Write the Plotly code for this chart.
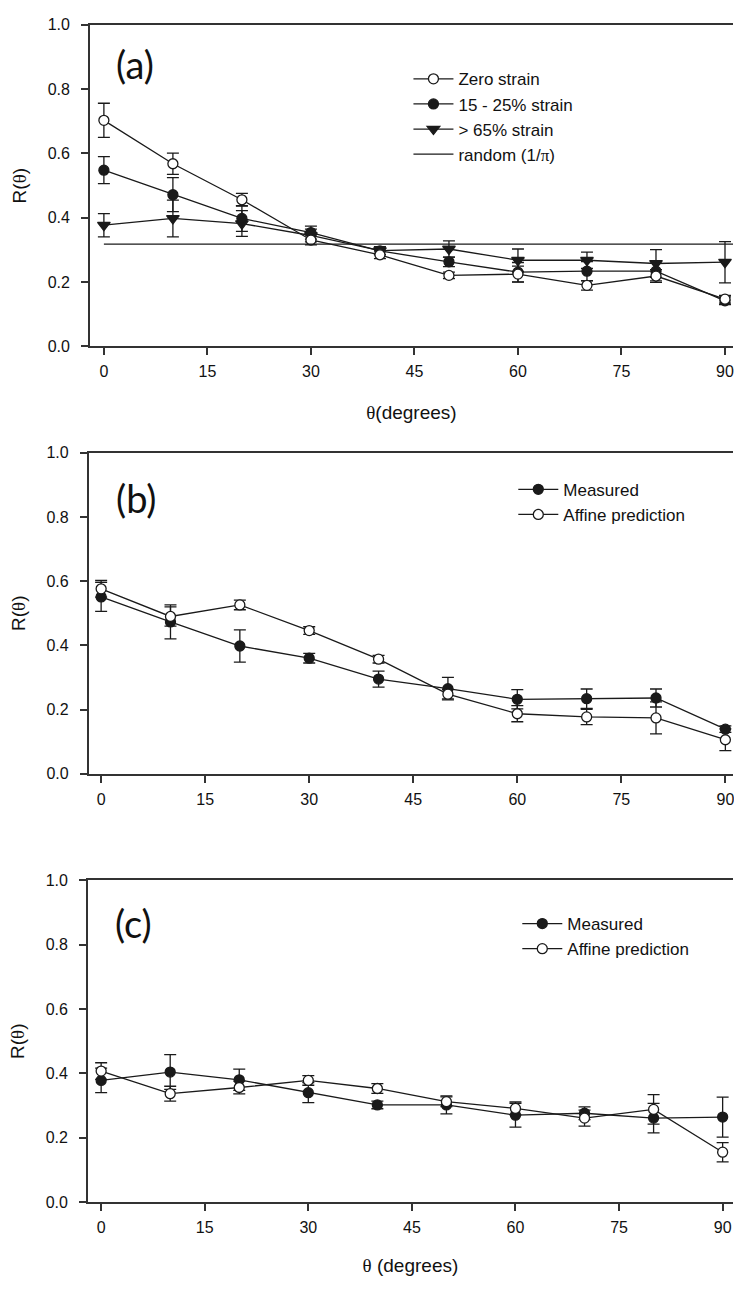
import plotly.graph_objects as go
import math

# ---------------- data ----------------
theta = [0, 10, 20, 30, 40, 50, 60, 70, 80, 90]
x_ticks = [0, 15, 30, 45, 60, 75, 90]
y_ticks = [0.0, 0.2, 0.4, 0.6, 0.8, 1.0]

# panel (a)
zero_strain = [0.703, 0.568, 0.456, 0.331, 0.285, 0.221, 0.225, 0.190, 0.219, 0.147]
zero_strain_err = [0.053, 0.033, 0.020, 0.015, 0.012, 0.010, 0.025, 0.015, 0.020, 0.012]
mid_strain = [0.548, 0.472, 0.398, 0.354, 0.297, 0.263, 0.231, 0.234, 0.234, 0.142]
mid_strain_err = [0.042, 0.053, 0.040, 0.020, 0.012, 0.015, 0.030, 0.030, 0.030, 0.012]
high_strain = [0.377, 0.398, 0.382, 0.345, 0.298, 0.303, 0.268, 0.268, 0.258, 0.262]
high_strain_err = [0.036, 0.057, 0.040, 0.020, 0.012, 0.025, 0.035, 0.025, 0.043, 0.064]
random_level = 1 / math.pi

# panel (b)
b_measured = [0.551, 0.473, 0.398, 0.360, 0.295, 0.265, 0.232, 0.234, 0.236, 0.139]
b_measured_err = [0.045, 0.053, 0.050, 0.015, 0.025, 0.035, 0.030, 0.030, 0.028, 0.010]
b_affine = [0.576, 0.490, 0.526, 0.446, 0.357, 0.248, 0.187, 0.177, 0.174, 0.106]
b_affine_err = [0.026, 0.030, 0.015, 0.012, 0.012, 0.015, 0.025, 0.024, 0.050, 0.034]

# panel (c)
c_measured = [0.378, 0.404, 0.380, 0.340, 0.302, 0.302, 0.270, 0.276, 0.261, 0.264]
c_measured_err = [0.038, 0.054, 0.033, 0.031, 0.012, 0.028, 0.037, 0.020, 0.046, 0.062]
c_affine = [0.407, 0.337, 0.356, 0.378, 0.353, 0.312, 0.291, 0.261, 0.288, 0.155]
c_affine_err = [0.026, 0.023, 0.020, 0.015, 0.015, 0.015, 0.020, 0.025, 0.046, 0.030]

# ---------------- style ----------------
W, H = 734, 1289
INK = "#1a1a1a"
AX = "#333333"
TICK_FONT = dict(family="Liberation Sans, Arial, sans-serif", size=16, color="#111111")
LEG_FONT = dict(family="Liberation Sans, Arial, sans-serif", size=17, color="#111111")
TITLE_FONT = dict(family="Liberation Sans, Arial, sans-serif", size=19, color="#111111")
SERIF = "font-family:'Liberation Serif', 'DejaVu Serif', serif"

# pixel geometry of the three panels
panels = [
    dict(left=90.0, top=17.0, bottom=343.0, xr=[-2.03, 91.16], tstand=26),
    dict(left=88.7, top=450.7, bottom=776.0, xr=[-1.81, 91.1], tstand=20),
    dict(left=88.0, top=884.0, bottom=1210.0, xr=[-1.92, 91.5], tstand=24),
]

fig = go.Figure()


def err(arr):
    return dict(type="data", array=arr, visible=True, color=INK, thickness=1.3, width=6)


def add(x, y, e, name, sym, fill, idx, legend, rank):
    fig.add_trace(go.Scatter(
        x=x, y=y, mode="lines+markers", name=name,
        error_y=err(e),
        line=dict(color=INK, width=1.3),
        marker=dict(symbol=sym, size=10 if sym != "triangle-down" else 11,
                    color=fill, line=dict(color=INK, width=1.3)),
        xaxis="x" if idx == 1 else f"x{idx}",
        yaxis="y" if idx == 1 else f"y{idx}",
        legend=legend, legendrank=rank,
    ))


# panel (a)
add(theta, high_strain, high_strain_err, "> 65% strain", "triangle-down", INK, 1, "legend", 3)
add(theta, mid_strain, mid_strain_err, "15 - 25% strain", "circle", INK, 1, "legend", 2)
add(theta, zero_strain, zero_strain_err, "Zero strain", "circle", "white", 1, "legend", 1)
fig.add_trace(go.Scatter(
    x=[theta[0], panels[0]["xr"][1]], y=[random_level, random_level],
    mode="lines", name=f"random (1/<span style=\"{SERIF}\">π</span>)",
    line=dict(color=INK, width=1.3), xaxis="x", yaxis="y",
    legend="legend", legendrank=4,
))

# panel (b)
add(theta, b_measured, b_measured_err, "Measured", "circle", INK, 2, "legend2", 1)
add(theta, b_affine, b_affine_err, "Affine prediction", "circle", "white", 2, "legend2", 2)

# panel (c)
add(theta, c_measured, c_measured_err, "Measured", "circle", INK, 3, "legend3", 1)
add(theta, c_affine, c_affine_err, "Affine prediction", "circle", "white", 3, "legend3", 2)

layout = dict(
    width=W, height=H,
    margin=dict(l=0, r=0, t=0, b=0),
    paper_bgcolor="white", plot_bgcolor="white",
    showlegend=True,
)

x_titles = [f"<span style=\"{SERIF}\">θ</span>(degrees)", None,
            f"<span style=\"{SERIF}\">θ</span> (degrees)"]

for i, p in enumerate(panels):
    sfx = "" if i == 0 else str(i + 1)
    xd = [p["left"] / W, 1.0]
    yd = [1 - p["bottom"] / H, 1 - p["top"] / H]
    xa = dict(
        domain=xd, range=p["xr"], tickmode="array", tickvals=x_ticks,
        ticktext=[str(v) for v in x_ticks],
        showline=True, linecolor=AX, linewidth=1.5, mirror=True,
        ticks="outside", ticklen=7, tickwidth=1.5, tickcolor=AX,
        tickfont=TICK_FONT, ticklabelstandoff=3, ticklabeloverflow="allow",
        showgrid=False, zeroline=False,
        anchor="y" + sfx,
    )
    if x_titles[i]:
        xa["title"] = dict(text=x_titles[i], font=TITLE_FONT, standoff=p["tstand"])
    ya = dict(
        domain=yd, range=[0, 1.0], tickmode="array", tickvals=y_ticks,
        ticktext=[f"{v:.1f}" for v in y_ticks],
        showline=True, linecolor=AX, linewidth=1.5,
        ticks="outside", ticklen=7, tickwidth=1.5, tickcolor=AX,
        tickfont=TICK_FONT, ticklabelstandoff=8,
        showgrid=False, zeroline=False,
        title=dict(text=f"R(<span style=\"{SERIF}\">θ</span>)", font=TITLE_FONT, standoff=16),
        anchor="x" + sfx,
    )
    layout["xaxis" + sfx] = xa
    layout["yaxis" + sfx] = ya

leg_common = dict(
    font=LEG_FONT, bgcolor="rgba(0,0,0,0)", borderwidth=0,
    xanchor="left", yanchor="top", tracegroupgap=0, itemwidth=40,
    traceorder="normal",
)
layout["legend"] = dict(leg_common, x=409 / W, y=1 - 54 / H)
layout["legend2"] = dict(leg_common, x=514 / W, y=1 - 470 / H)
layout["legend3"] = dict(leg_common, x=518 / W, y=1 - 910 / H)

fig.update_layout(**layout)

# panel letters
label_font = dict(family="Lato, 'Open Sans', sans-serif", size=38, color="#111111")
for txt, (cx, cy) in zip(["(a)", "(b)", "(c)"], [(135, 57), (136, 497), (134, 927)]):
    fig.add_annotation(text=txt, x=cx / W, y=1 - cy / H, xref="paper", yref="paper",
                       showarrow=False, font=label_font, xanchor="center", yanchor="middle")

fig.write_html("out.html")
